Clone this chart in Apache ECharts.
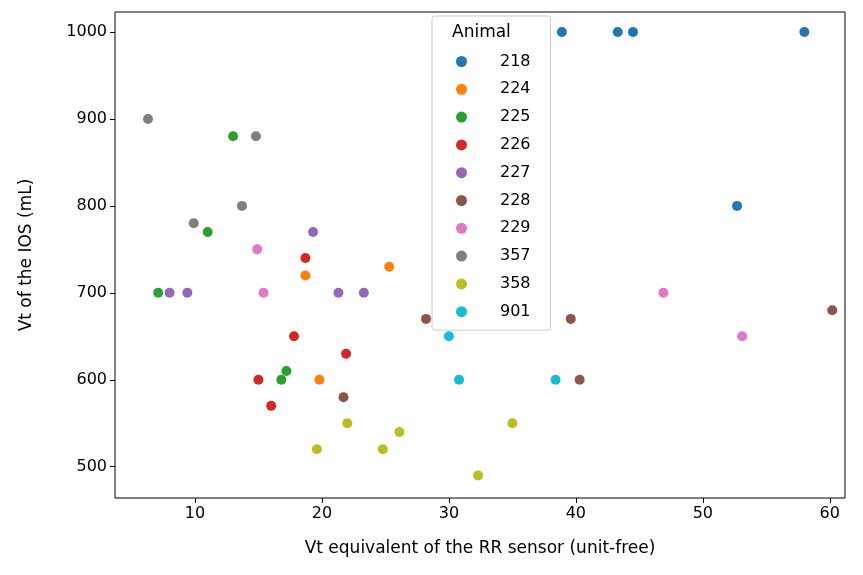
<!DOCTYPE html><html><head><meta charset="utf-8">
<script src="https://cdn.jsdelivr.net/npm/echarts@6/dist/echarts.min.js"></script>
<style>html,body{margin:0;padding:0;background:#fff}#c{width:863px;height:575px}</style></head><body><div id="c"></div>
<script>
const animals=['218','224','225','226','227','228','229','357','358','901'];
const colors=['#1f77b4','#ff7f0e','#2ca02c','#d62728','#9467bd','#8c564b','#e377c2','#7f7f7f','#bcbd22','#17becf'];
const xTicks=[10,20,30,40,50,60];
const yTicks=[500,600,700,800,900,1000];
const d218=[[38.9,1000],[43.3,1000],[44.5,1000],[58.0,1000],[52.7,800]];
const d224=[[18.7,720],[25.3,730],[19.8,600]];
const d225=[[13.0,880],[11.0,770],[7.1,700],[17.2,610],[16.8,600]];
const d226=[[18.7,740],[17.8,650],[21.9,630],[15.0,600],[16.0,570]];
const d227=[[19.3,770],[8.0,700],[9.4,700],[21.3,700],[23.3,700]];
const d228=[[28.2,670],[39.6,670],[40.3,600],[21.7,580],[60.2,680]];
const d229=[[14.9,750],[15.4,700],[46.9,700],[53.1,650]];
const d357=[[6.3,900],[14.8,880],[13.7,800],[9.9,780]];
const d358=[[19.6,520],[22.0,550],[24.8,520],[26.1,540],[32.3,490],[35.0,550]];
const d901=[[30.0,650],[30.8,600],[38.4,600]];
const all=[d218,d224,d225,d226,d227,d228,d229,d357,d358,d901];
const font='DejaVu Sans';
const ch=echarts.init(document.getElementById('c'));
ch.setOption({
 animation:false,
 textStyle:{fontFamily:font},
 grid:{left:115,right:18,top:12,bottom:77,show:true,borderColor:'#000',borderWidth:1},
 xAxis:{type:'value',min:3.7,max:61.2,
  axisLabel:{fontSize:16,color:'#000',customValues:xTicks},
  axisTick:{show:true,customValues:xTicks,lineStyle:{color:'#000'}},axisLine:{show:false},splitLine:{show:false},
  name:'Vt equivalent of the RR sensor (unit-free)',nameLocation:'middle',nameGap:42,nameTextStyle:{fontSize:17,color:'#000'}},
 yAxis:{type:'value',min:464,max:1023,
  axisLabel:{fontSize:16,color:'#000',customValues:yTicks,formatter:v=>String(v)},
  axisTick:{show:true,customValues:yTicks,lineStyle:{color:'#000'}},axisLine:{show:false},splitLine:{show:false},
  name:'Vt of the IOS (mL)',nameLocation:'middle',nameGap:80,nameTextStyle:{fontSize:17,color:'#000'}},
 legend:{orient:'vertical',left:432,top:16,padding:[36,20,9,24],itemGap:8.8,itemWidth:11,itemHeight:11,icon:'circle',
  backgroundColor:'#fff',borderColor:'#ccc',borderWidth:1,borderRadius:3,
  textStyle:{fontSize:16,color:'#000',padding:[0,0,0,28],lineHeight:19},data:animals},
 graphic:[{type:'text',left:452,top:24,style:{text:'Animal',fontSize:17,fill:'#000',fontFamily:font},z:100}],
 series:animals.map((a,i)=>({name:a,type:'scatter',data:all[i],symbolSize:10,itemStyle:{color:colors[i],opacity:1}}))
});
</script></body></html>
